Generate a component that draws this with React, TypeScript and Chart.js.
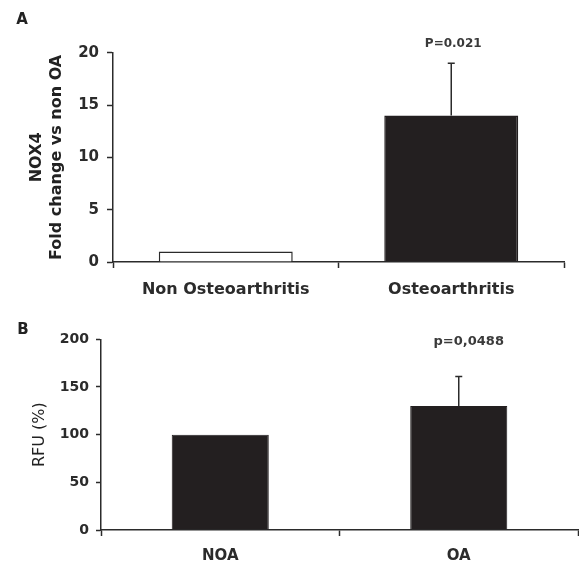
import React, { useEffect, useRef } from "react";
import { Chart, registerables } from "chart.js";
Chart.register(...registerables);

// Panel A data
const categoriesA = ["Non Osteoarthritis", "Osteoarthritis"];
const valuesA = [1, 14];
const errorsA = [0, 5];
const pLabelsA = ["", "P=0.021"];
const yMaxA = 20;
const yStepA = 5;

// Panel B data
const categoriesB = ["NOA", "OA"];
const valuesB = [100, 130];
const errorsB = [0, 31];
const pLabelsB = ["", "p=0,0488"];
const yMaxB = 200;
const yStepB = 50;

const FONT = "'DejaVu Sans', sans-serif";
const INK = "#2b2b2b";
const BAR = "#231f20";

const errorBarPlugin = {
  id: "errorBars",
  afterDatasetsDraw(chart: any, _args: any, opts: any) {
    const { ctx } = chart;
    const meta = chart.getDatasetMeta(0);
    const yScale = chart.scales.y;
    const data = chart.data.datasets[0].data;
    meta.data.forEach((bar: any, i: number) => {
      const v = data[i];
      const e = opts.errors[i] || 0;
      const x = bar.x;
      const yTop = yScale.getPixelForValue(v + e);
      if (e) {
        const yBase = yScale.getPixelForValue(v);
        ctx.save();
        ctx.strokeStyle = INK;
        ctx.lineWidth = 1.5;
        ctx.beginPath();
        ctx.moveTo(x, yBase);
        ctx.lineTo(x, yTop);
        ctx.moveTo(x - opts.cap, yTop);
        ctx.lineTo(x + opts.cap, yTop);
        ctx.stroke();
        ctx.restore();
      }
      const lab = opts.labels[i];
      if (lab) {
        ctx.save();
        ctx.fillStyle = "#3a3a3a";
        ctx.font = `bold ${opts.labelSize}px ${FONT}`;
        ctx.textAlign = "center";
        ctx.textBaseline = "middle";
        ctx.fillText(lab, x + opts.dx, yTop - opts.dy);
        ctx.restore();
      }
    });
    ctx.save();
    ctx.fillStyle = "#222";
    ctx.font = `bold 15px ${FONT}`;
    ctx.textAlign = "center";
    ctx.textBaseline = "middle";
    ctx.fillText(opts.panel, opts.panelX, opts.panelY);
    ctx.restore();
  },
};

function makeConfig(p: any) {
  return {
    type: "bar",
    data: {
      labels: p.categories,
      datasets: [
        {
          data: p.values,
          backgroundColor: p.fills,
          borderColor: p.borders,
          borderWidth: p.borderWidth,
          barPercentage: p.barPct,
          categoryPercentage: 1,
        },
      ],
    },
    plugins: [errorBarPlugin],
    options: {
      responsive: false,
      maintainAspectRatio: false,
      animation: false,
      events: [],
      layout: { padding: p.padding },
      plugins: {
        legend: { display: false },
        tooltip: { enabled: false },
        errorBars: p.errorOpts,
      },
      scales: {
        x: {
          offset: true,
          afterFit: (s: any) => {
            s.height = p.xHeight;
          },
          grid: {
            offset: true,
            drawOnChartArea: false,
            drawTicks: true,
            tickLength: p.xTickLen,
            tickWidth: 1.5,
            tickColor: INK,
          },
          border: { display: true, color: INK, width: 1.5 },
          ticks: {
            color: INK,
            padding: p.xPad,
            font: { family: FONT, weight: "bold", size: p.xFont },
            maxRotation: 0,
          },
        },
        y: {
          min: 0,
          max: p.yMax,
          afterFit: (s: any) => {
            s.width = p.yWidth;
          },
          grid: {
            drawOnChartArea: false,
            drawTicks: true,
            tickLength: p.yTickLen,
            tickWidth: 1.5,
            tickColor: INK,
          },
          border: { display: true, color: INK, width: 1.5 },
          ticks: {
            stepSize: p.yStep,
            color: INK,
            padding: p.yPad,
            font: { family: FONT, weight: "bold", size: p.yFont },
          },
          title: {
            display: true,
            text: p.yTitle,
            color: "#222",
            padding: { top: p.titlePad, bottom: 0 },
            font: { family: FONT, weight: p.titleWeight, size: p.titleSize, lineHeight: p.titleLH },
          },
        },
      },
    },
  };
}

function Panel({ cfg, width, height, top }: any) {
  const ref = useRef<HTMLCanvasElement>(null);
  useEffect(() => {
    const chart = new Chart(ref.current as HTMLCanvasElement, makeConfig(cfg) as any);
    return () => chart.destroy();
  }, []);
  return (
    <div style={{ position: "absolute", left: 0, top, width, height }}>
      <canvas ref={ref} width={width} height={height} style={{ display: "block", width, height }} />
    </div>
  );
}

const cfgA = {
  categories: categoriesA,
  values: valuesA,
  fills: ["#ffffff", BAR],
  borders: [INK, BAR],
  borderWidth: 1.5,
  barPct: 0.594,
  padding: { top: 52.7, right: 15, left: 0, bottom: 0 },
  xHeight: 38,
  xTickLen: 6,
  xPad: 12,
  xFont: 16,
  yMax: yMaxA,
  yStep: yStepA,
  yWidth: 113,
  yTickLen: 6,
  yPad: 8,
  yFont: 15,
  yTitle: ["NOX4", "Fold change vs non OA"],
  titlePad: 26.5,
  titleWeight: "bold",
  titleSize: 16,
  titleLH: 1.25,
  errorOpts: { errors: errorsA, labels: pLabelsA, cap: 3.5, dx: 2, dy: 19, labelSize: 12, panel: "A", panelX: 22, panelY: 20 },
};

const cfgB = {
  categories: categoriesB,
  values: valuesB,
  fills: [BAR, BAR],
  borders: [BAR, BAR],
  borderWidth: 1,
  barPct: 0.407,
  padding: { top: 39.3, right: 1, left: 0, bottom: 0 },
  xHeight: 38,
  xTickLen: 6,
  xPad: 11,
  xFont: 15,
  yMax: yMaxB,
  yStep: yStepB,
  yWidth: 101,
  yTickLen: 5,
  yPad: 7,
  yFont: 14,
  yTitle: "RFU (%)",
  titlePad: 30.6,
  titleWeight: "normal",
  titleSize: 16,
  titleLH: 1.2,
  errorOpts: { errors: errorsB, labels: pLabelsB, cap: 3.5, dx: 10, dy: 35, labelSize: 13, panel: "B", panelX: 23, panelY: 30 },
};

export default function App() {
  return (
    <div style={{ position: "absolute", left: 0, top: 0, width: 579, height: 568, background: "#fff" }}>
      <Panel cfg={cfgA} width={579} height={300} top={0} />
      <Panel cfg={cfgB} width={579} height={268} top={300} />
    </div>
  );
}
